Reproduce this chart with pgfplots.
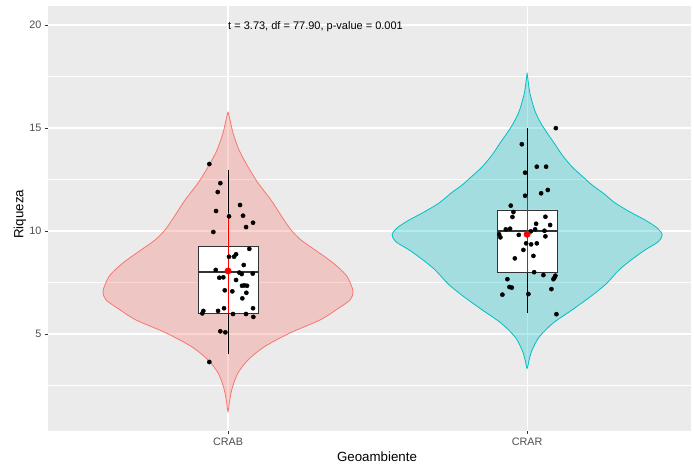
\documentclass[border=0pt]{standalone}
\usepackage{fontspec}
\setmainfont{Liberation Sans}
\usepackage{pgfplots}
\pgfplotsset{compat=1.18}
\definecolor{ggbg}{HTML}{EBEBEB}
\definecolor{ggred}{HTML}{F8766D}
\definecolor{ggcyan}{HTML}{00BFC4}
\definecolor{gg30}{HTML}{4D4D4D}
\definecolor{gg20}{HTML}{333333}
\begin{document}
\begin{tikzpicture}
\begin{axis}[
  scale only axis, width=643pt, height=425pt,
  xmin=0.398, xmax=2.548, ymin=0.291, ymax=20.92,
  axis background/.style={fill=ggbg},
  axis line style={draw=none},
  xtick={1,2}, xticklabels={CRAB,CRAR},
  ytick={5,10,15,20},
  minor ytick={2.5,7.5,12.5,17.5},
  grid=both,
  major grid style={white, line width=1.1pt},
  minor grid style={white, line width=0.55pt},
  tick align=outside, tick pos=left,
  major tick length=3pt, minor tick length=0pt,
  tick style={gg20, line width=0.8pt},
  ticklabel style={font=\fontsize{10.8}{12}\selectfont, text=gg30},
  /pgf/number format/assume math mode=true,
  xlabel={Geoambiente}, ylabel={Riqueza},
  label style={font=\fontsize{13.3}{15}\selectfont},
  xlabel style={at={(axis description cs:0.5117,0)}, anchor=center, yshift=-26pt},
  ylabel style={at={(axis description cs:-0.0436,0.51)}, anchor=center},
]
% violins
\addplot[draw=ggred, fill=ggred, fill opacity=0.3, line width=0.8pt, smooth] coordinates {
(1,15.79) (1.0067,15.39) (1.0167,14.76) (1.0368,13.93) (1.0669,13.11) (1.1003,12.33) (1.1438,11.50) (1.1806,10.68) (1.2107,10.05) (1.2442,9.56) (1.291,9.08) (1.3512,8.45) (1.3946,7.86) (1.4114,7.38) (1.4181,7.04) (1.4080,6.65) (1.3612,6.17) (1.3077,5.68) (1.2074,5.05) (1.1204,4.37) (1.0669,3.74) (1.0334,3.11) (1.0151,2.43) (1.0057,1.80) (1,1.23)
(0.9943,1.80) (0.9849,2.43) (0.9666,3.11) (0.9331,3.74) (0.8796,4.37) (0.7926,5.05) (0.6923,5.68) (0.6388,6.17) (0.5920,6.65) (0.5819,7.04) (0.5886,7.38) (0.6054,7.86) (0.6488,8.45) (0.709,9.08) (0.7558,9.56) (0.7893,10.05) (0.8194,10.68) (0.8562,11.50) (0.8997,12.33) (0.9331,13.11) (0.9632,13.93) (0.9833,14.76) (0.9933,15.39) (1,15.79)
};
\addplot[draw=ggcyan, fill=ggcyan, fill opacity=0.3, line width=0.8pt, smooth] coordinates {
(2,17.68) (2.005,17.09) (2.009,16.70) (2.0151,16.36) (2.0251,15.87) (2.0401,15.39) (2.0602,14.90) (2.0903,14.27) (2.1171,13.69) (2.1505,13.11) (2.1873,12.62) (2.2174,12.23) (2.2542,11.84) (2.2943,11.36) (2.3445,10.92) (2.3946,10.53) (2.4348,10.15) (2.4515,9.81) (2.4381,9.47) (2.3946,9.08) (2.3478,8.59) (2.3077,8.11) (2.2676,7.48) (2.2408,7.14) (2.2107,6.80) (2.1505,6.17) (2.0870,5.53) (2.0401,4.85) (2.0167,4.22) (2.0067,3.74) (2,3.33)
(1.9933,3.74) (1.9833,4.22) (1.9599,4.85) (1.9130,5.53) (1.8495,6.17) (1.7893,6.80) (1.7592,7.14) (1.7324,7.48) (1.6923,8.11) (1.6522,8.59) (1.6054,9.08) (1.5619,9.47) (1.5485,9.81) (1.5652,10.15) (1.6054,10.53) (1.6555,10.92) (1.7057,11.36) (1.7458,11.84) (1.7826,12.23) (1.8127,12.62) (1.8495,13.11) (1.8829,13.69) (1.9097,14.27) (1.9398,14.90) (1.9599,15.39) (1.9749,15.87) (1.9849,16.36) (1.991,16.70) (1.995,17.09) (2,17.68)
};
% whiskers
\addplot[black, line width=0.8pt] coordinates {(1,4.03) (1,12.96)};
\addplot[black, line width=0.8pt] coordinates {(2,6.0) (2,14.99)};
% boxes
\addplot[draw=gg20, fill=white, line width=0.8pt] coordinates {(0.9,6.0) (1.1,6.0) (1.1,9.24) (0.9,9.24) (0.9,6.0)};
\addplot[draw=gg20, fill=white, line width=0.8pt] coordinates {(1.9,7.99) (2.1,7.99) (2.1,11.02) (1.9,11.02) (1.9,7.99)};
% medians
\addplot[gg20, line width=1.8pt] coordinates {(0.9,8.02) (1.1,8.02)};
\addplot[gg20, line width=1.8pt] coordinates {(1.9,10.01) (2.1,10.01)};
% mean summaries (line)
\addplot[red, line width=0.9pt] coordinates {(1,6.0) (1,10.86)};
\addplot[red, line width=0.9pt] coordinates {(2,7.99) (2,11.75)};
% jittered points
\addplot[only marks, mark=*, mark size=2.1pt, black] coordinates {
(0.9375,13.25) (0.9742,12.32) (0.9656,11.89) (1.0401,11.26) (0.9599,10.97) (1.0033,10.71) (1.0502,10.74) (1.0836,10.40) (1.0602,10.19) (0.9508,9.95)
(1.0712,9.13) (1.0033,8.75) (1.0201,8.75) (1.0268,8.87) (1.0525,8.35) (0.9589,8.11) (1.0378,7.98) (1.0458,7.91) (1.0826,7.93) (0.9709,7.73)
(0.9843,7.75) (1.0268,7.62) (1.0468,7.34) (1.0545,7.36) (1.0635,7.34) (0.9890,7.12) (1.0144,7.07) (1.0612,7.00) (1.0478,6.73) (1.0836,6.25)
(0.9866,6.25) (0.9666,6.12) (0.9174,6.12) (0.9140,6.00) (1.0167,5.97) (1.0602,5.97) (1.0846,5.83) (0.9742,5.13) (0.9910,5.08) (0.9375,3.64)
};
\addplot[only marks, mark=*, mark size=2.1pt, black] coordinates {
(2.0960,14.99) (1.9823,14.21) (2.0324,13.12) (2.0635,13.12) (1.9933,12.83) (2.0692,11.99) (2.0468,11.83) (1.9933,11.71) (1.9454,11.23) (1.9542,10.92)
(1.9509,10.68) (2.0612,10.69) (2.0301,10.35) (2.0769,10.29) (1.9431,10.11) (1.9288,10.08) (2.0268,10.08) (2.0580,10.01) (2.0124,9.98) (1.9064,9.84)
(1.9107,9.69) (1.9722,9.81) (2.0612,9.74) (1.9967,9.40) (2.0134,9.35) (2.0324,9.40) (1.9876,9.08) (2.0211,8.79) (1.9589,8.67) (2.0234,8.00)
(2.0545,7.86) (2.0946,7.83) (2.0913,7.73) (2.0880,7.66) (1.9341,7.66) (1.9408,7.28) (1.9488,7.25) (2.0813,7.18) (1.9174,6.91) (2.0043,6.94)
(2.0980,5.96)
};
% mean dots
\addplot[only marks, mark=*, mark size=3.2pt, red] coordinates {(1,8.06) (2,9.84)};
\node[anchor=west, inner sep=0pt, font=\fontsize{11}{13}\selectfont] at (axis cs:1,19.93) {t = 3.73, df = 77.90, p-value = 0.001};
\coordinate (bl) at (rel axis cs:0,0);
\end{axis}
\path (bl) ++(-48pt,-38pt) rectangle ++(694pt,469pt);
\end{tikzpicture}
\end{document}
